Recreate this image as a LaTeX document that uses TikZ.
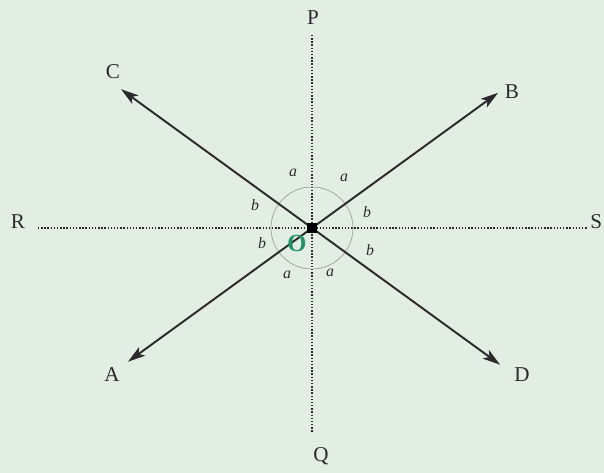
\documentclass[tikz,border=0pt]{standalone}
\usepackage{fontspec}
\setmainfont{Liberation Serif}
\usetikzlibrary{calc,arrows.meta}
\definecolor{fbg}{HTML}{E2EDE4}
\definecolor{fink}{HTML}{2A2A2A}
\definecolor{farc}{HTML}{9AA29C}
\definecolor{fgreen}{HTML}{22916A}

\begin{document}
\begin{tikzpicture}[>={Stealth[length=10pt,width=6pt,inset=2.5pt]}, line width=1.1pt, font=\fontsize{12}{14}\selectfont]
  % page and background
  \fill[fbg] (-6.24,-4.9) rectangle (5.84,4.56);
  \useasboundingbox (-6.24,-4.9) rectangle (5.84,4.56);

  \coordinate (O)    at (0,0);
  \coordinate (Ptop) at (0,3.86);     % end of the vertical line
  \coordinate (Qbot) at (0,-4.08);
  \coordinate (Rend) at (-5.48,0);    % end of the horizontal line
  \coordinate (Send) at (5.52,0);
  \coordinate (Ctip) at (144:4.72);
  \coordinate (Btip) at (36:4.6);
  \coordinate (Atip) at (216:4.55);
  \coordinate (Dtip) at (-36:4.65);

  % dotted reference lines PQ and RS
  \draw[fink, densely dotted, line width=0.8pt] (Ptop) -- (Qbot);
  \draw[fink, densely dotted, line width=0.8pt] (Rend) -- (Send);

  % angle marks round O
  \draw[farc, line width=0.4pt] (O) circle (0.82);

  % the two crossing lines AB and CD
  \draw[fink, ->] (O) -- (Ctip);
  \draw[fink, ->] (O) -- (Dtip);
  \draw[fink, ->] (O) -- (Btip);
  \draw[fink, ->] (O) -- (Atip);

  % the meeting point
  \fill[black] (-0.1,-0.1) rectangle (0.1,0.1);
  \node[fgreen, font=\fontsize{14}{16}\selectfont\bfseries] (lO) at (-0.3,-0.3) {O};

  % end labels
  \node[fink] (lP) at (0.02,4.2)   {P};
  \node[fink] (lQ) at (0.18,-4.56) {Q};
  \node[fink] (lR) at (-5.88,0.12) {R};
  \node[fink, anchor=east, inner sep=0.5pt] (lS) at (5.84,0.12) {S};
  \node[fink] (lC) at (-3.98,3.12) {C};
  \node[fink] (lB) at (4.0,2.72)   {B};
  \node[fink] (lA) at (-4.0,-2.94) {A};
  \node[fink] (lD) at (4.2,-2.94)  {D};

  % the angles
  \node[fink, font=\small\itshape] (a1) at (-0.38,1.1)  {a};
  \node[fink, font=\small\itshape] (a2) at (0.64,1.0)   {a};
  \node[fink, font=\small\itshape] (a3) at (-0.5,-0.94) {a};
  \node[fink, font=\small\itshape] (a4) at (0.36,-0.9)  {a};
  \node[fink, font=\small\itshape] (b1) at (-1.14,0.46) {b};
  \node[fink, font=\small\itshape] (b2) at (1.1,0.32)   {b};
  \node[fink, font=\small\itshape] (b3) at (-1.0,-0.3)  {b};
  \node[fink, font=\small\itshape] (b4) at (1.16,-0.44) {b};
\end{tikzpicture}
\end{document}
